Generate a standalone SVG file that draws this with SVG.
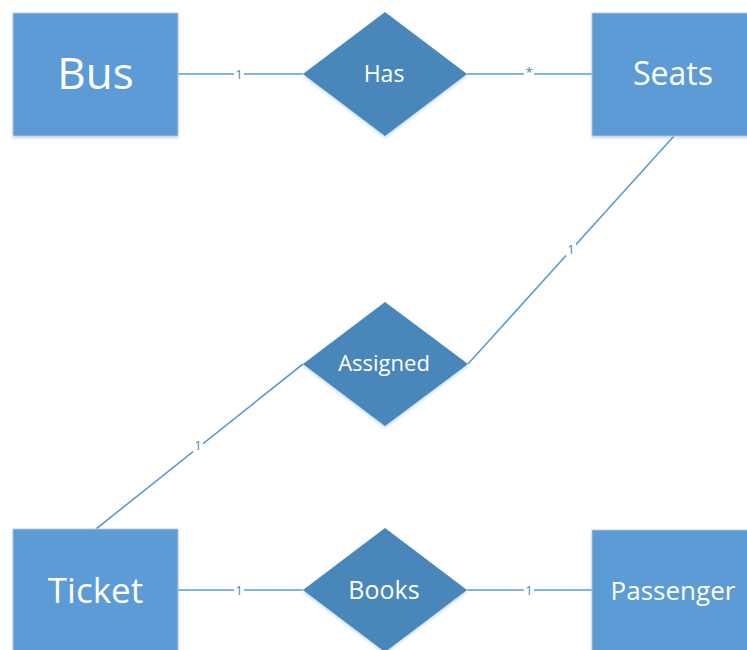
<svg xmlns="http://www.w3.org/2000/svg" width="747" height="650" viewBox="0 0 747 650">
  <defs>
    <filter id="shadow" x="-10%" y="-10%" width="120%" height="130%">
      <feDropShadow dx="0" dy="2" stdDeviation="1.5" flood-color="#5b9bd5" flood-opacity="0.35"/>
    </filter>
  </defs>
  <style>
    .entity { fill: #5b9bd5; stroke: #c9c9c9; stroke-width: 0.8; filter: url(#shadow); }
    .relation { fill: #4a86ba; filter: url(#shadow); }
    .label { fill: #ffffff; font-family: "Open Sans", "Liberation Sans", sans-serif; text-anchor: middle; dominant-baseline: central; }
    .link { stroke: #5b9bd5; stroke-width: 1.6; fill: none; }
    .card { fill: #4a86ba; font-family: "Open Sans", "Liberation Sans", sans-serif; font-size: 13px; text-anchor: middle; dominant-baseline: central; }
    .cardbg { fill: #ffffff; }
  </style>
  <rect width="747" height="650" fill="#ffffff"/>

  <!-- connectors with cardinality labels -->
  <g id="connectors">
    <line class="link" x1="178" y1="74" x2="303" y2="74"/>
    <rect class="cardbg" x="234" y="67" width="10" height="14"/>
    <text class="card" x="239" y="74">1</text>

    <line class="link" x1="467" y1="74" x2="592" y2="74"/>
    <rect class="cardbg" x="524" y="66" width="10" height="12"/>
    <text class="card" x="529" y="72">*</text>

    <line class="link" x1="674" y1="136" x2="468" y2="364"/>
    <rect class="cardbg" x="566" y="242" width="10" height="14"/>
    <text class="card" x="571" y="249">1</text>

    <line class="link" x1="96" y1="529" x2="303" y2="364"/>
    <rect class="cardbg" x="193" y="438" width="10" height="14"/>
    <text class="card" x="198" y="445">1</text>

    <line class="link" x1="178" y1="590" x2="303" y2="590"/>
    <rect class="cardbg" x="234" y="583" width="10" height="14"/>
    <text class="card" x="239" y="590">1</text>

    <line class="link" x1="467" y1="590" x2="592" y2="590"/>
    <rect class="cardbg" x="524" y="583" width="10" height="14"/>
    <text class="card" x="529" y="590">1</text>
  </g>

  <!-- entities -->
  <g id="bus">
    <rect class="entity" x="13" y="13" width="165" height="123"/>
    <text class="label" x="95.5" y="72" font-size="44">Bus</text>
  </g>
  <g id="seats">
    <rect class="entity" x="592" y="13" width="165" height="123"/>
    <text class="label" x="673" y="72" font-size="32">Seats</text>
  </g>
  <g id="ticket">
    <rect class="entity" x="13" y="529" width="165" height="123"/>
    <text class="label" x="95.5" y="589" font-size="35">Ticket</text>
  </g>
  <g id="passenger">
    <rect class="entity" x="592" y="530" width="165" height="123"/>
    <text class="label" x="673" y="590" font-size="26">Passenger</text>
  </g>

  <!-- relationships -->
  <g id="has">
    <polygon class="relation" points="385,12 467,74 385,136 303,74"/>
    <text class="label" x="384" y="73" font-size="23">Has</text>
  </g>
  <g id="assigned">
    <polygon class="relation" points="385,302 468,364 385,426 303,364"/>
    <text class="label" x="384" y="362" font-size="22">Assigned</text>
  </g>
  <g id="books">
    <polygon class="relation" points="385,528 467,590 385,652 303,590"/>
    <text class="label" x="384" y="589" font-size="25">Books</text>
  </g>
</svg>
